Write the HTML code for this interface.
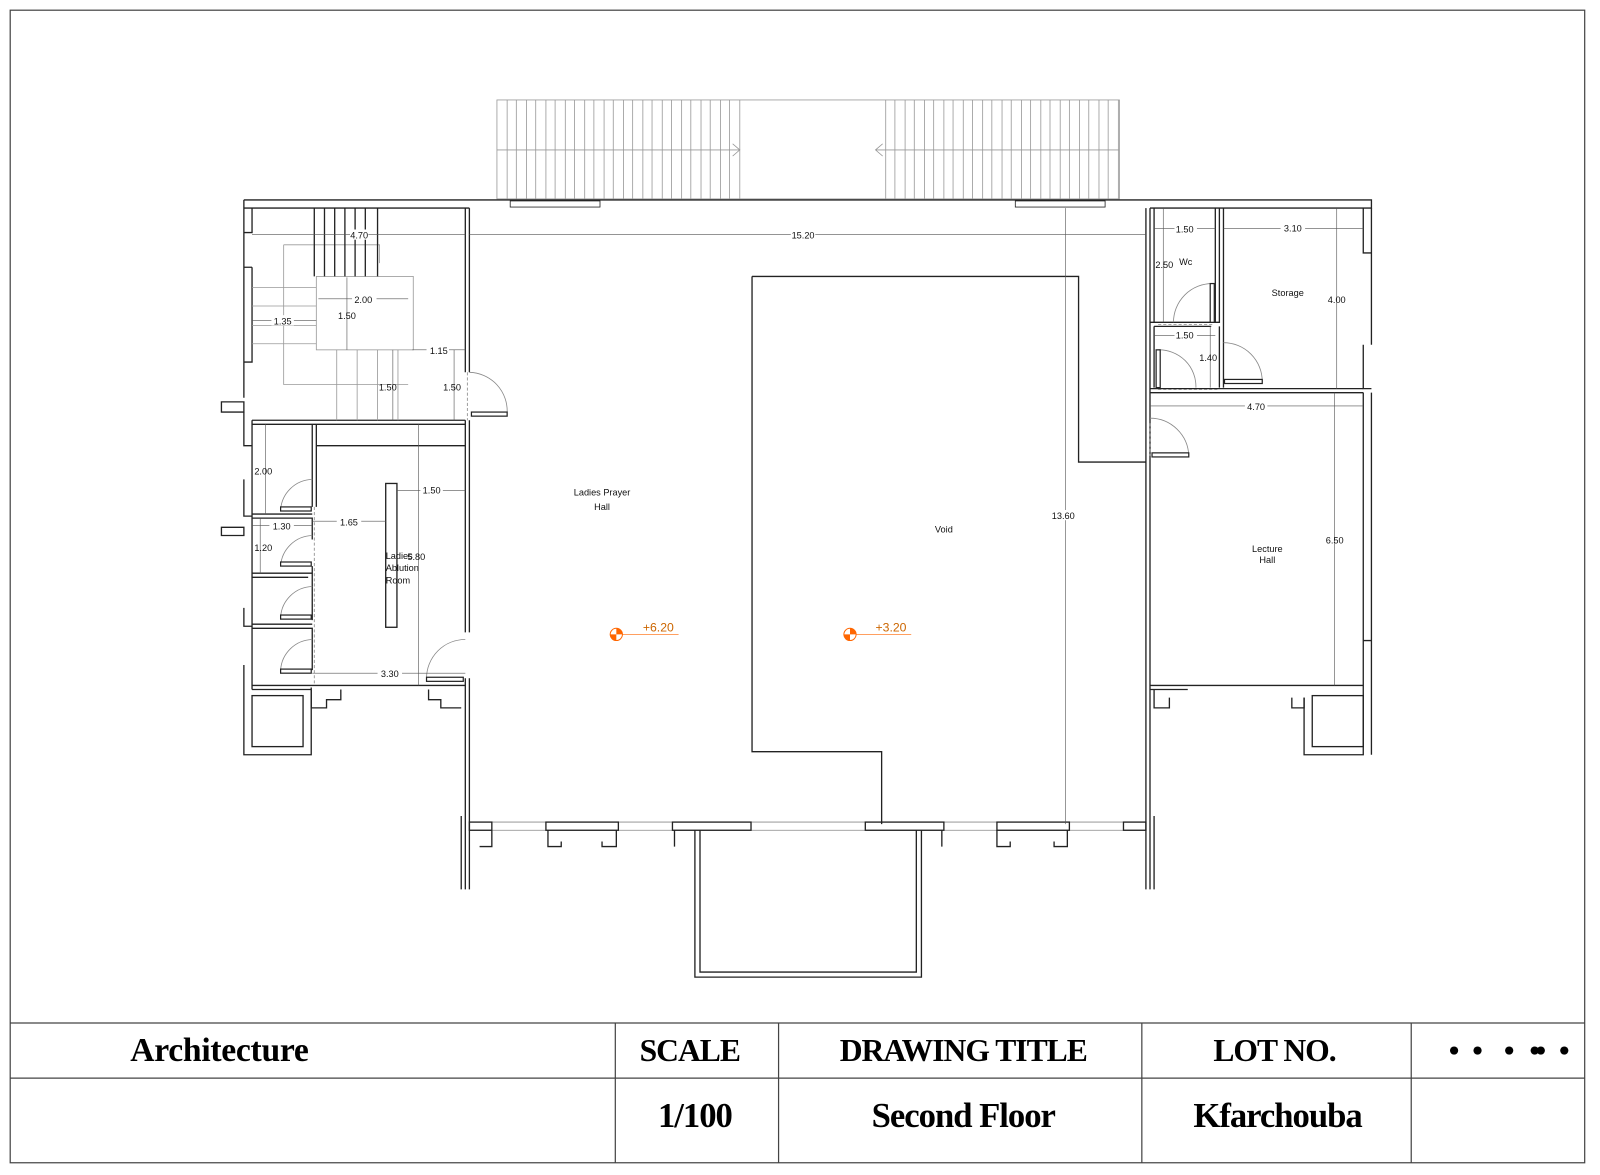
<!DOCTYPE html>
<html><head><meta charset="utf-8"><style>
html,body{margin:0;padding:0;background:#fff}
svg{display:block}
text{font-family:"Liberation Sans",sans-serif}
.t{font-family:"Liberation Serif",serif;font-weight:bold;font-size:31px;text-anchor:middle;letter-spacing:-1px}
.d{font-size:9px;text-anchor:middle}
</style></head><body>
<svg width="1600" height="1175" viewBox="0 0 1568 1152" preserveAspectRatio="none" xmlns="http://www.w3.org/2000/svg">
<rect width="1568" height="1152" fill="#fff"/>
<g fill="none" stroke="#444" stroke-width="1.2">
<rect x="10" y="10" width="1543" height="1130"/>
<line x1="10" y1="1003" x2="1553" y2="1003"/>
<line x1="10" y1="1057" x2="1553" y2="1057"/>
<line x1="603" y1="1003" x2="603" y2="1140"/>
<line x1="763" y1="1003" x2="763" y2="1140"/>
<line x1="1119" y1="1003" x2="1119" y2="1140"/>
<line x1="1383" y1="1003" x2="1383" y2="1140"/>
</g>
<text class="t" x="215" y="1040" style="font-size:33px;letter-spacing:-0.3px">Architecture</text>
<text class="t" x="676" y="1040">SCALE</text>
<text class="t" x="944" y="1040">DRAWING TITLE</text>
<text class="t" x="1249" y="1040">LOT NO.</text>
<text class="t" x="681" y="1105" style="font-size:34px">1/100</text>
<text class="t" x="944" y="1105" style="font-size:34px">Second Floor</text>
<text class="t" x="1252" y="1105" style="font-size:34px">Kfarchouba</text>
<g fill="#000"><circle cx="1425" cy="1030" r="4"/><circle cx="1448" cy="1030" r="4"/><circle cx="1479" cy="1030" r="4"/><circle cx="1504" cy="1030" r="4"/><circle cx="1510" cy="1030" r="4"/><circle cx="1533" cy="1030" r="4"/></g>

<g stroke="#999" stroke-width="0.8" fill="none">
<rect x="487" y="98" width="610" height="97"/>
<path id="tr" d="M497 98V195M506 98V195M516 98V195M525 98V195M535 98V195M544 98V195M554 98V195M563 98V195M573 98V195M582 98V195M592 98V195M601 98V195M611 98V195M620 98V195M630 98V195M639 98V195M649 98V195M658 98V195M668 98V195M677 98V195M687 98V195M696 98V195M706 98V195M715 98V195M725 98V195"/>
<use href="#tr" transform="translate(371 0)"/>
<path d="M487 147H725M718 141l7 6-7 6M858 147H1097M865 141l-7 6 7 6"/>
</g>

<g fill="none" stroke="#222" stroke-width="1.3">
<path d="M239 196H1344V204H1127M460 204H239"/>
<rect x="500" y="197" width="88" height="6" stroke-width="0.8"/>
<rect x="995" y="197" width="88" height="6" stroke-width="0.8"/>
<path d="M239 196V228H247V204M239 228V262H247M239 262V355H247V262M239 355V390M239 404V437H247M239 470V506H247M239 596V614H247M239 652V740H305V674M247 676V412"/>
<path d="M217 394H239V404H217Z M217 517H239V525H217Z"/>
<path d="M456 204V365M460 204V365M456 412V620M460 412V620M456 665V872M460 665V872"/>
<path d="M247 412H456M247 416H456"/>
<path d="M306 416V497M310 416V497M310 437H456"/>
<path d="M247 504H306M247 508H306V529M306 555V608M247 562H306M247 566H302M247 612H306M247 616H306V657"/>
<path d="M247 672H456M247 676H305"/>
<rect x="247" y="682" width="50" height="50"/>
<path d="M305 676V694H320V686H334V676M420 676V686H432V694H452"/>
<rect x="378" y="474" width="11" height="141"/>
<path d="M1123 204V453M1127 204V453M1123 444V872M1127 444V872"/>
<path d="M1336 204V248H1344V204M1336 338V381H1344M1344 248V338M1336 385V628H1344V385M1336 628V740H1278V684M1344 628V740"/>
<path d="M1127 316H1195V204M1131 316V204M1191 204V316M1199 204V380M1127 381H1336M1127 385H1336M1131 320H1187M1195 320V380M1131 320V380M1127 672H1336M1164 676H1127"/>
<rect x="1286" y="682" width="50" height="50"/>
<path d="M1278 684V694H1266V684M1131 676V694H1146V684"/>
<path d="M737 271H1057V453H1123M737 271V737H864V808"/>
<path d="M460 806H1123M460 814H1123" stroke-width="0.8" stroke="#888"/>
<rect x="460" y="806" width="22" height="8"/><rect x="535" y="806" width="71" height="8"/>
<rect x="659" y="806" width="77" height="8"/><rect x="848" y="806" width="77" height="8"/>
<rect x="977" y="806" width="71" height="8"/><rect x="1101" y="806" width="22" height="8"/>
<path d="M537 814V830H550V825M604 814V830H590V825M977 814V830H990V825M1046 814V830H1033V825M661 814V830M923 814V830M482 814V830H470"/>
<path d="M681 814V958H903V814M686 814V953H898V814"/>
<path d="M452 800V872M1131 800V872"/>
</g>
<g stroke="#999" stroke-width="0.8" fill="none">
<rect x="310" y="271" width="95" height="72"/>
<path d="M278 240H372V258M278 240V377H400M247 282H310M247 300H310M247 319H310M247 337H310M330 343V412M350 343V412M370 343V412M390 343V412"/>
</g>
<g stroke="#222" stroke-width="1.3"><path d="M308 204V271M318 204V271M328 204V271M338 204V271M348 204V271M358 204V271M370 204V271"/></g>
<g stroke="#888" fill="none" stroke-width="0.8">
<path d="M460 365A38 38 0 0 1 497 405M306 470A32 32 0 0 0 275 500M306 525A32 32 0 0 0 275 555M306 575A32 32 0 0 0 275 605M306 627A32 32 0 0 0 275 657M456 627A38 38 0 0 0 418 665M1188 278A38 38 0 0 0 1150 316M1199 336A38 38 0 0 1 1237 374M1135 343A36 36 0 0 1 1172 380M1127 410A38 38 0 0 1 1165 447"/>
<path d="M458 365V412M308 497V672M1127 415V447M1135 318H1190M1135 382H1195" stroke-dasharray="3 2"/>
</g>
<g fill="#fff" stroke="#222" stroke-width="1.2">
<rect x="462" y="404" width="35" height="4"/><rect x="275" y="497" width="30" height="4"/><rect x="275" y="551" width="30" height="4"/>
<rect x="275" y="603" width="30" height="4"/><rect x="275" y="656" width="30" height="4"/><rect x="418" y="664" width="36" height="4"/>
<rect x="1186" y="278" width="4" height="38"/><rect x="1200" y="372" width="37" height="4"/><rect x="1133" y="343" width="4" height="37"/><rect x="1129" y="444" width="36" height="4"/>
</g>
<g stroke="#555" stroke-width="0.6" fill="none">
<path d="M247 230H456M460 230H1123M1044 204V808M312 293H400M340 272V343M247 314H310M404 343H456M385 343V412M445 343V412M260 416V504M247 515H306M255 508V562M306 511H378M389 481H456M410 416V672M306 660H456M1131 224H1191M1140 204V316M1199 224H1336M1310 204V381M1131 329H1191M1186 320V380M1127 398H1336M1308 385V672"/>
</g>
<g class="d" font-size="9" text-anchor="middle" fill="#111">
<g fill="#fff"><rect x="343" y="225" width="18" height="10"/><rect x="775" y="225" width="24" height="10"/><rect x="345" y="288" width="24" height="10"/><rect x="266" y="309" width="22" height="10"/><rect x="418" y="338" width="22" height="10"/><rect x="1030" y="500" width="26" height="10"/><rect x="1151" y="219" width="22" height="10"/><rect x="1255" y="219" width="24" height="10"/><rect x="1151" y="324" width="22" height="10"/><rect x="1220" y="393" width="22" height="10"/><rect x="330" y="506" width="24" height="10"/><rect x="412" y="476" width="22" height="10"/><rect x="370" y="655" width="24" height="10"/><rect x="264" y="510" width="24" height="10"/></g>
<text x="352" y="234">4.70</text><text x="787" y="234">15.20</text><text x="356" y="297">2.00</text><text x="340" y="313">1.50</text>
<text x="277" y="318">1.35</text><text x="430" y="347">1.15</text><text x="380" y="383">1.50</text><text x="443" y="383">1.50</text>
<text x="258" y="465">2.00</text><text x="276" y="519">1.30</text><text x="342" y="515">1.65</text><text x="258" y="540">1.20</text>
<text x="423" y="484">1.50</text><text x="408" y="549">5.80</text><text x="382" y="664">3.30</text>
<text x="1042" y="509">13.60</text><text x="1161" y="228">1.50</text><text x="1141" y="263">2.50</text><text x="1267" y="227">3.10</text>
<text x="1310" y="297">4.00</text><text x="1161" y="332">1.50</text><text x="1184" y="354">1.40</text><text x="1231" y="402">4.70</text><text x="1308" y="533">6.50</text>
<text x="1162" y="260">Wc</text><text x="1262" y="290">Storage</text><text x="590" y="486">Ladies Prayer</text><text x="590" y="500">Hall</text>
<text x="925" y="522">Void</text><text x="1242" y="541">Lecture</text><text x="1242" y="552">Hall</text>
<text x="378" y="548" text-anchor="start">Ladies</text><text x="378" y="560" text-anchor="start">Ablution</text><text x="378" y="572" text-anchor="start">Room</text>
</g>
<g>
<circle cx="604" cy="622" r="6" fill="#fff" stroke="#f60" stroke-width="1"/>
<path d="M604 622V616A6 6 0 0 1 610 622ZM604 622V628A6 6 0 0 1 598 622Z" fill="#f60"/>
<line x1="610" y1="622" x2="665" y2="622" stroke="#f60" stroke-width="0.6"/>
<text x="630" y="619" font-size="12" fill="#c60">+6.20</text>
<circle cx="833" cy="622" r="6" fill="#fff" stroke="#f60" stroke-width="1"/>
<path d="M833 622V616A6 6 0 0 1 839 622ZM833 622V628A6 6 0 0 1 827 622Z" fill="#f60"/>
<line x1="839" y1="622" x2="893" y2="622" stroke="#f60" stroke-width="0.6"/>
<text x="858" y="619" font-size="12" fill="#c60">+3.20</text>
</g>
</svg>
</body></html>
